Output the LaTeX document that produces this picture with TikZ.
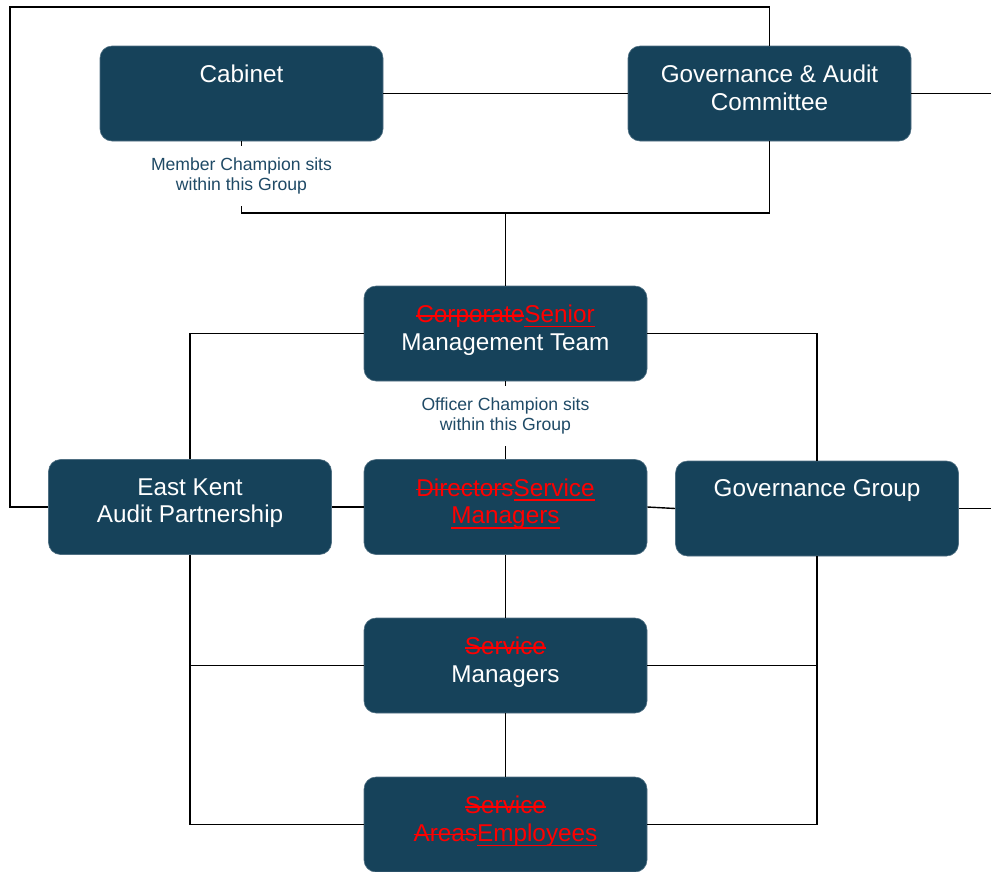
\documentclass[tikz,border=0pt]{standalone}
\usepackage{fontspec}
\setmainfont{Liberation Sans}
\newcommand{\mystrike}[1]{\setbox0\hbox{#1}\rlap{\raisebox{0.24em}{\rule{\wd0}{1.6pt}}}\box0}
\newcommand{\myunder}[1]{\setbox0\hbox{#1}\rlap{\raisebox{-0.2em}{\rule{\wd0}{1.5pt}}}\box0}
\definecolor{boxcol}{HTML}{16425A}
\definecolor{boxedge}{HTML}{4F6F82}
\definecolor{labcol}{HTML}{1F4A66}
\begin{document}
\begin{tikzpicture}[x=1pt,y=-1pt,
  box/.style={draw=boxedge,line width=0.6pt,fill=boxcol,rounded corners=12pt,minimum width=283pt,minimum height=95pt,inner sep=0pt},
  boxtext/.style={anchor=north,text=white,align=center,inner sep=0pt,font=\fontsize{24.3}{27.8}\selectfont},
  lab/.style={fill=white,text=labcol,align=center,inner xsep=2pt,inner ysep=11pt,font=\fontsize{17.6}{20.8}\selectfont},
  conn/.style={line width=1.4pt,black}]
\useasboundingbox (0,0) rectangle (991,871);
% boxes
\node[box] (cab) at (241.5,93.5) {};
\node[box] (gac) at (769.5,93.5) {};
\node[box] (smt) at (505.5,333.5) {};
\node[box] (ekap) at (190,507) {};
\node[box] (dsm) at (505.5,507) {};
\node[box] (gg) at (817,508.5) {};
\node[box] (sm) at (505.5,665.5) {};
\node[box] (emp) at (505.5,824.5) {};
% box texts
\node[boxtext] (cabt) at ([yshift=-19pt]cab.north) {Cabinet};
\node[boxtext] (gact) at ([yshift=-19pt]gac.north) {Governance \& Audit\\Committee};
\node[boxtext] (smtt) at ([yshift=-19pt]smt.north) {{\color{red}\mystrike{Corporate}\myunder{Senior}}\\Management Team};
\node[boxtext] (ekapt) at ([yshift=-19pt]ekap.north) {East Kent\\Audit Partnership};
\node[boxtext] (dsmt) at ([yshift=-19pt]dsm.north) {{\color{red}\mystrike{Directors}\myunder{Service}}\\{\color{red}\myunder{Managers}}};
\node[boxtext] (ggt) at ([yshift=-19pt]gg.north) {Governance Group};
\node[boxtext] (smt2) at ([yshift=-19pt]sm.north) {{\color{red}\mystrike{Service}}\\Managers};
\node[boxtext] (empt) at ([yshift=-19pt]emp.north) {{\color{red}\mystrike{Service}}\\{\color{red}\mystrike{Areas}\myunder{Employees}}};
% coordinates
\coordinate (tl) at (10,7);
\coordinate (mj) at (241.5,213);
\coordinate (re1) at (991,93.5);
\coordinate (re2) at (991,508.5);
% connectors
\draw[conn] (ekap.west) -| (tl) -| (gac.north);
\draw[conn] (cab.east) -- (gac.west);
\draw[conn] (gac.east) -- (re1);
\draw[conn] (gac.south) |- (mj) -- (cab.south);
\draw[conn] (smt.north) -- (smt.north |- mj);
\draw[conn] (smt.west) -| (ekap.north);
\draw[conn] (smt.east) -| (gg.north);
\draw[conn] (smt.south) -- (dsm.north);
\draw[conn] (ekap.east) -- (dsm.west);
\draw[conn] (dsm.east) -- (gg.west);
\draw[conn] (gg.east) -- (re2);
\draw[conn] (dsm.south) -- (sm.north);
\draw[conn] (sm.south) -- (emp.north);
\draw[conn] (ekap.south) |- (emp.west);
\draw[conn] (ekap.south |- sm.west) -- (sm.west);
\draw[conn] (gg.south) |- (emp.east);
\draw[conn] (gg.south |- sm.east) -- (sm.east);
% labels
\node[lab] (mlab) at (241.5,176) {Member Champion sits\\within this Group};
\node[lab] (olab) at (505.5,416) {Officer Champion sits\\within this Group};
\end{tikzpicture}
\end{document}
